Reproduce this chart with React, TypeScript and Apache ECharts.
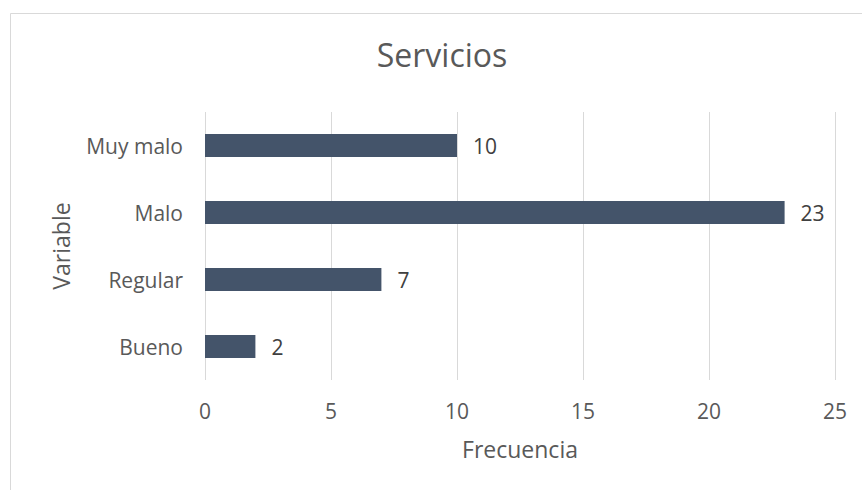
import React, { useEffect, useRef } from "react";
import * as echarts from "echarts";

const categories = ["Bueno", "Regular", "Malo", "Muy malo"];
const values = [2, 7, 23, 10];
const xTicks = [0, 5, 10, 15, 20, 25];
const titleText = "Servicios";
const xName = "Frecuencia";
const yName = "Variable";

export default function App() {
  const ref = useRef<HTMLDivElement>(null);
  useEffect(() => {
    if (!ref.current) return;
    const chart = echarts.init(ref.current, undefined, { renderer: "svg" });
    const font = "'Open Sans', sans-serif";
    chart.setOption({
      animation: false,
      backgroundColor: "#ffffff",
      textStyle: { fontFamily: font },
      title: {
        text: titleText,
        left: 442,
        top: 38,
        padding: 0,
        textAlign: "center",
        textStyle: { fontFamily: font, fontSize: 32, fontWeight: "normal", color: "#595959" },
      },
      graphic: [
        {
          type: "rect",
          shape: { x: 10.5, y: 13.5, width: 900, height: 600 },
          style: { fill: "none", stroke: "#D9D9D9", lineWidth: 1 },
          silent: true,
        },
      ],
      grid: { left: 205, right: 27, top: 112, bottom: 110, containLabel: false },
      xAxis: {
        type: "value",
        min: xTicks[0],
        max: xTicks[xTicks.length - 1],
        interval: 5,
        name: xName,
        nameLocation: "middle",
        nameGap: 57,
        nameTextStyle: { fontFamily: font, fontSize: 23, color: "#595959" },
        axisLine: { show: false },
        axisTick: { show: false },
        axisLabel: { fontFamily: font, fontSize: 21, color: "#595959", margin: 20 },
        splitLine: { show: true, lineStyle: { color: "#D9D9D9", width: 1 } },
      },
      yAxis: {
        type: "category",
        data: categories,
        name: yName,
        nameLocation: "middle",
        nameGap: 133,
        nameRotate: 90,
        nameTextStyle: { fontFamily: font, fontSize: 23, color: "#595959" },
        axisLine: { show: false },
        axisTick: { show: false },
        axisLabel: { fontFamily: font, fontSize: 21, color: "#595959", margin: 22 },
        splitLine: { show: false },
      },
      series: [
        {
          type: "bar",
          data: values,
          barWidth: 23,
          itemStyle: { color: "#44546A" },
          label: {
            show: true,
            position: "right",
            distance: 16,
            fontFamily: font,
            fontSize: 21,
            color: "#404040",
          },
        },
      ],
    });
    return () => chart.dispose();
  }, []);
  return (
    <div
      ref={ref}
      style={{ position: "absolute", left: 0, top: 0, width: 862, height: 490 }}
    />
  );
}
